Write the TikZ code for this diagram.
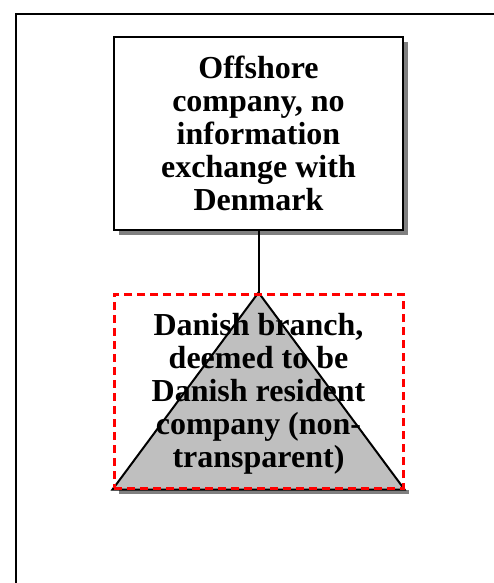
\documentclass[tikz,border=0pt]{standalone}
\usepackage{fontspec}
\setmainfont{Liberation Serif}
\usetikzlibrary{positioning,calc}

\tikzset{
  entitybox/.style={draw, line width=2.6pt, fill=white, minimum width=289pt, minimum height=193pt,
    align=center, font=\fontsize{32}{33}\selectfont\bfseries, inner sep=0pt},
  branchbox/.style={draw=red, dashed, dash pattern=on 8pt off 5pt, line width=3pt,
    minimum width=289pt, minimum height=194pt, inner sep=0pt},
  shade/.style={fill=black!50, draw=none},
}

\begin{document}
\begin{tikzpicture}[x=1pt,y=1pt]
    \useasboundingbox (0,0) rectangle (494,-583);
    % outer frame
    \draw[line width=2pt] (500,-14) -- (16,-14) -- (16,-590);
    % offshore company
    \fill[shade] (119,-42) rectangle (408,-235);
    \node[entitybox] (offshore) at (258.5,-133.5)
        {Offshore\\company, no\\information\\exchange with\\Denmark};
    % danish branch
    \node[branchbox] (branch) at (258.5,-391) {};
    \fill[shade] ($(branch.south west)+(6,0)$) rectangle ($(branch.south east)+(4,-4)$);
    \draw[fill=black!25, line width=2pt] (branch.north) -- (branch.south east) -- (branch.south west) -- cycle;
    \node[branchbox] at (branch) {};
    \node[align=center, font=\fontsize{32}{33}\selectfont\bfseries] (branchtext) at ($(branch)+(0,-3)$)
        {Danish branch,\\deemed to be\\Danish resident\\company (non-\\transparent)};
    \draw[line width=2pt] (offshore.south) -- (branch.north);
\end{tikzpicture}
\end{document}
